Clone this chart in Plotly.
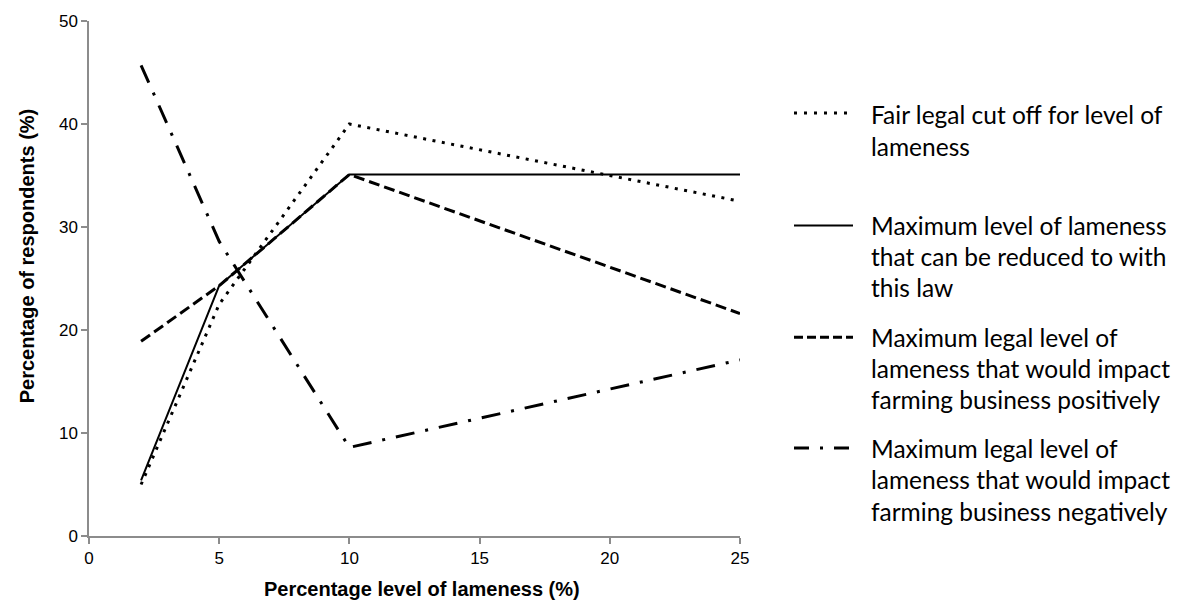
import plotly.graph_objects as go

# Percentage level of lameness (x) and share of respondents per question (y)
lameness_levels = [2, 5, 10, 25]
fair_cutoff = [5.0, 22.5, 40.0, 32.5]
max_reducible = [5.4, 24.3, 35.1, 35.1]
impact_positive = [18.9, 24.3, 35.1, 21.6]
impact_negative = [45.7, 28.6, 8.6, 17.1]

x_ticks = [0, 5, 10, 15, 20, 25]
y_ticks = [0, 10, 20, 30, 40, 50]

series_labels = [
    ["Fair legal cut off for level of", "lameness"],
    ["Maximum level of lameness", "that can be reduced to with", "this law"],
    ["Maximum legal level of", "lameness that would impact", "farming business positively"],
    ["Maximum legal level of", "lameness that would impact", "farming business negatively"],
]

x_title = "Percentage level of lameness (%)"
y_title = "Percentage of respondents (%)"

W, H = 1187, 607
PL, PR, PT, PB = 89, 740, 15, 536  # plot area edges in pixels

dash_styles = ["3px,6.5px", "solid", "11px,5px", "19px,11px,3px,11px"]
legend_dashes = ["3px,7px", "solid", "9px,4px", "15px,11px,3px,11px"]
line_widths = [3, 2, 3, 3]

series_values = [fair_cutoff, max_reducible, impact_positive, impact_negative]


def px_x(px):
    return (px - PL) / (PR - PL)


def px_y(py):
    return (PB - py) / (PB - PT)


fig = go.Figure()
for vals, dash, lw, lab in zip(series_values, dash_styles, line_widths, series_labels):
    fig.add_trace(go.Scatter(
        x=lameness_levels, y=vals, mode="lines",
        line=dict(color="black", width=lw, dash=dash),
        name=" ".join(lab), showlegend=False,
    ))

# Legend drawn by hand: sample line plus wrapped label lines
legend_sym_y = [108, 222, 335, 447]
legend_text_y = [[110, 142], [222, 253, 285], [335, 367, 398], [447, 479, 511]]
shapes = []
annotations = []
for i, lab in enumerate(series_labels):
    shapes.append(dict(
        type="line", xref="paper", yref="paper",
        x0=px_x(794), x1=px_x(853), y0=px_y(legend_sym_y[i]), y1=px_y(legend_sym_y[i]),
        line=dict(color="black", width=line_widths[i], dash=legend_dashes[i]),
    ))
    for text, ty in zip(lab, legend_text_y[i]):
        annotations.append(dict(
            text=text, xref="paper", yref="paper",
            x=px_x(869), y=px_y(ty), xanchor="left", yanchor="middle",
            showarrow=False, font=dict(family="Lato", size=24.5, color="black"),
        ))

annotations.append(dict(
    text="<b>%s</b>" % x_title, xref="paper", yref="paper",
    x=px_x(422), y=px_y(590), xanchor="center", yanchor="middle",
    showarrow=False, font=dict(family="Liberation Sans", size=20, color="black"),
))
annotations.append(dict(
    text="<b>%s</b>" % y_title, xref="paper", yref="paper",
    x=px_x(27), y=px_y(253), xanchor="center", yanchor="middle", textangle=-90,
    showarrow=False, font=dict(family="Liberation Sans", size=20, color="black"),
))

axis_common = dict(
    showgrid=False, zeroline=False, showline=True, linecolor="#8c8c8c", linewidth=1.5,
    ticks="outside", ticklen=6, tickwidth=1.5, tickcolor="#8c8c8c",
    tickfont=dict(family="Liberation Sans", size=17, color="black"),
)

fig.update_layout(
    width=W, height=H,
    margin=dict(l=PL, r=W - PR, t=PT, b=H - PB),
    paper_bgcolor="white", plot_bgcolor="white",
    xaxis=dict(range=[0, 25], tickvals=x_ticks, **axis_common),
    yaxis=dict(range=[0, 50], tickvals=y_ticks, **axis_common),
    shapes=shapes, annotations=annotations,
)

fig.write_html("out.html")
